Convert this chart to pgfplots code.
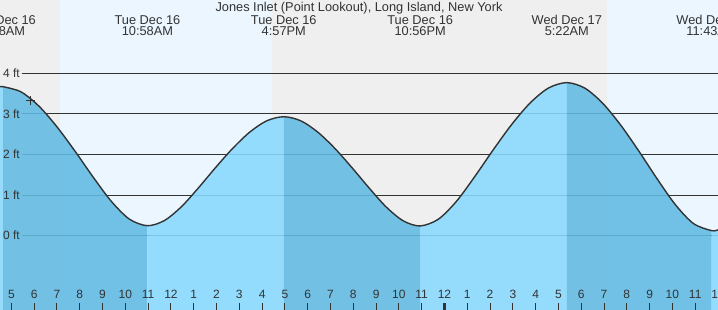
\documentclass[border=0pt]{standalone}
\usepackage{fontspec}
\setmainfont{Liberation Sans}
\usepackage{pgfplots}
\pgfplotsset{compat=1.18}
\usepackage{pgfplotstable}
\usepgfplotslibrary{fillbetween}
\definecolor{night}{RGB}{239,239,239}
\definecolor{day}{RGB}{235,246,255}
\definecolor{rise}{RGB}{136,217,254}
\definecolor{fall}{RGB}{97,186,227}
\definecolor{ink}{RGB}{51,51,51}

\pgfplotstableread{
hour ft
4.50 3.665
4.633 3.67
5.425 3.541
6.217 3.186
7.009 2.674
7.800 2.074
8.592 1.439
9.384 0.846
10.175 0.409
10.967 0.246
11.715 0.374
12.463 0.716
13.211 1.181
13.959 1.679
14.706 2.149
15.454 2.550
16.202 2.829
16.95 2.93
17.698 2.829
18.446 2.549
19.194 2.148
19.941 1.676
20.689 1.178
21.437 0.711
22.185 0.368
22.933 0.24
23.737 0.408
24.542 0.858
25.346 1.470
26.150 2.124
26.954 2.743
27.759 3.270
28.563 3.637
29.367 3.77
30.161 3.633
30.954 3.254
31.748 2.710
32.542 2.071
33.336 1.395
34.129 0.764
34.923 0.299
35.717 0.125
36.0 0.145
}\tide

\newcommand{\lblfont}{\fontsize{12.8}{14}\selectfont}
\newcommand{\smlfont}{\fontsize{12}{13}\selectfont}

\begin{document}
\begin{tikzpicture}
\begin{axis}[
  width=718pt, height=310pt, scale only axis,
  xmin=4.5, xmax=36, ymin=-1.83, ymax=5.805,
  axis lines=none, set layers,
]
\begin{pgfonlayer}{axis background}
\fill[night] (axis cs:4.5,-1.83) rectangle (axis cs:7.133,5.805);
\fill[day] (axis cs:7.133,-1.83) rectangle (axis cs:16.435,5.805);
\fill[night] (axis cs:16.435,-1.83) rectangle (axis cs:31.134,5.805);
\fill[day] (axis cs:31.134,-1.83) rectangle (axis cs:36,5.805);
\end{pgfonlayer}
\begin{pgfonlayer}{axis grid}
\draw[ink, line width=1pt] (axis cs:5.465,0) -- (axis cs:36,0);
\draw[ink, line width=1pt] (axis cs:5.465,1) -- (axis cs:36,1);
\draw[ink, line width=1pt] (axis cs:5.465,2) -- (axis cs:36,2);
\draw[ink, line width=1pt] (axis cs:5.465,3) -- (axis cs:36,3);
\draw[ink, line width=1pt] (axis cs:5.465,4) -- (axis cs:36,4);
\end{pgfonlayer}

\addplot[ink, line width=1.4pt, smooth, name path=tide] table[x=hour,y=ft] {\tide};
\path[name path=bottom] (axis cs:4,-2.2) -- (axis cs:37,-2.2);

\addplot[fill=rise, draw=none, fill opacity=0.88] fill between[of=tide and bottom, soft clip={domain=4.5:4.633}];
\addplot[fill=fall, draw=none, fill opacity=0.88] fill between[of=tide and bottom, soft clip={domain=4.633:10.967}];
\addplot[fill=rise, draw=none, fill opacity=0.88] fill between[of=tide and bottom, soft clip={domain=10.967:16.95}];
\addplot[fill=fall, draw=none, fill opacity=0.88] fill between[of=tide and bottom, soft clip={domain=16.95:22.933}];
\addplot[fill=rise, draw=none, fill opacity=0.88] fill between[of=tide and bottom, soft clip={domain=22.933:29.367}];
\addplot[fill=fall, draw=none, fill opacity=0.88] fill between[of=tide and bottom, soft clip={domain=29.367:35.717}];
\addplot[fill=rise, draw=none, fill opacity=0.88] fill between[of=tide and bottom, soft clip={domain=35.717:36}];

\addplot[ink, only marks, mark=+, mark size=4.5pt, line width=0.9pt] coordinates {(5.847,3.325)};

% height labels
\node[anchor=east, inner sep=0pt, text=ink, font=\smlfont] at (axis cs:5.378,0) {0 ft};
\node[anchor=east, inner sep=0pt, text=ink, font=\smlfont] at (axis cs:5.378,1) {1 ft};
\node[anchor=east, inner sep=0pt, text=ink, font=\smlfont] at (axis cs:5.378,2) {2 ft};
\node[anchor=east, inner sep=0pt, text=ink, font=\smlfont] at (axis cs:5.378,3) {3 ft};
\node[anchor=east, inner sep=0pt, text=ink, font=\smlfont] at (axis cs:5.378,4) {4 ft};

% title and event labels
\node[anchor=base, text=ink, font=\lblfont] at (axis cs:20.25,5.517) {Jones Inlet (Point Lookout), Long Island, New York};
\node[anchor=base, text=ink, font=\lblfont] at (axis cs:4.633,5.207) {Tue Dec 16};
\node[anchor=base, text=ink, font=\lblfont] at (axis cs:4.633,4.919) {4:38AM};
\node[anchor=base, text=ink, font=\lblfont] at (axis cs:10.967,5.207) {Tue Dec 16};
\node[anchor=base, text=ink, font=\lblfont] at (axis cs:10.967,4.919) {10:58AM};
\node[anchor=base, text=ink, font=\lblfont] at (axis cs:16.95,5.207) {Tue Dec 16};
\node[anchor=base, text=ink, font=\lblfont] at (axis cs:16.95,4.919) {4:57PM};
\node[anchor=base, text=ink, font=\lblfont] at (axis cs:22.933,5.207) {Tue Dec 16};
\node[anchor=base, text=ink, font=\lblfont] at (axis cs:22.933,4.919) {10:56PM};
\node[anchor=base, text=ink, font=\lblfont] at (axis cs:29.367,5.207) {Wed Dec 17};
\node[anchor=base, text=ink, font=\lblfont] at (axis cs:29.367,4.919) {5:22AM};
\node[anchor=base, text=ink, font=\lblfont] at (axis cs:35.717,5.207) {Wed Dec 17};
\node[anchor=base, text=ink, font=\lblfont] at (axis cs:35.717,4.919) {11:43AM};

% hour ticks
\pgfplotsinvokeforeach{5,...,36}{\draw[ink, line width=1pt] (axis cs:#1,-1.83) -- (axis cs:#1,-1.658);}
\draw[ink, line width=2.7pt] (axis cs:24,-1.83) -- (axis cs:24,-1.658);
\node[anchor=base, text=ink, font=\smlfont] at (axis cs:5,-1.559) {5};
\node[anchor=base, text=ink, font=\smlfont] at (axis cs:6,-1.559) {6};
\node[anchor=base, text=ink, font=\smlfont] at (axis cs:7,-1.559) {7};
\node[anchor=base, text=ink, font=\smlfont] at (axis cs:8,-1.559) {8};
\node[anchor=base, text=ink, font=\smlfont] at (axis cs:9,-1.559) {9};
\node[anchor=base, text=ink, font=\smlfont] at (axis cs:10,-1.559) {10};
\node[anchor=base, text=ink, font=\smlfont] at (axis cs:11,-1.559) {11};
\node[anchor=base, text=ink, font=\smlfont] at (axis cs:12,-1.559) {12};
\node[anchor=base, text=ink, font=\smlfont] at (axis cs:13,-1.559) {1};
\node[anchor=base, text=ink, font=\smlfont] at (axis cs:14,-1.559) {2};
\node[anchor=base, text=ink, font=\smlfont] at (axis cs:15,-1.559) {3};
\node[anchor=base, text=ink, font=\smlfont] at (axis cs:16,-1.559) {4};
\node[anchor=base, text=ink, font=\smlfont] at (axis cs:17,-1.559) {5};
\node[anchor=base, text=ink, font=\smlfont] at (axis cs:18,-1.559) {6};
\node[anchor=base, text=ink, font=\smlfont] at (axis cs:19,-1.559) {7};
\node[anchor=base, text=ink, font=\smlfont] at (axis cs:20,-1.559) {8};
\node[anchor=base, text=ink, font=\smlfont] at (axis cs:21,-1.559) {9};
\node[anchor=base, text=ink, font=\smlfont] at (axis cs:22,-1.559) {10};
\node[anchor=base, text=ink, font=\smlfont] at (axis cs:23,-1.559) {11};
\node[anchor=base, text=ink, font=\smlfont] at (axis cs:24,-1.559) {12};
\node[anchor=base, text=ink, font=\smlfont] at (axis cs:25,-1.559) {1};
\node[anchor=base, text=ink, font=\smlfont] at (axis cs:26,-1.559) {2};
\node[anchor=base, text=ink, font=\smlfont] at (axis cs:27,-1.559) {3};
\node[anchor=base, text=ink, font=\smlfont] at (axis cs:28,-1.559) {4};
\node[anchor=base, text=ink, font=\smlfont] at (axis cs:29,-1.559) {5};
\node[anchor=base, text=ink, font=\smlfont] at (axis cs:30,-1.559) {6};
\node[anchor=base, text=ink, font=\smlfont] at (axis cs:31,-1.559) {7};
\node[anchor=base, text=ink, font=\smlfont] at (axis cs:32,-1.559) {8};
\node[anchor=base, text=ink, font=\smlfont] at (axis cs:33,-1.559) {9};
\node[anchor=base, text=ink, font=\smlfont] at (axis cs:34,-1.559) {10};
\node[anchor=base, text=ink, font=\smlfont] at (axis cs:35,-1.559) {11};
\node[anchor=base, text=ink, font=\smlfont] at (axis cs:36,-1.559) {12};
\end{axis}
\pgfresetboundingbox
\path[use as bounding box] (current axis.south west) rectangle (current axis.north east);
\end{tikzpicture}
\end{document}
